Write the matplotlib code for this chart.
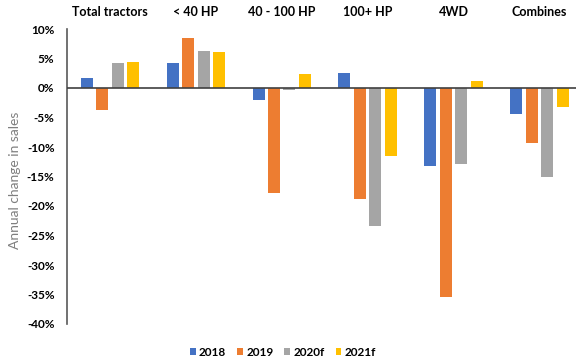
import matplotlib
matplotlib.use("Agg")
import matplotlib.pyplot as plt
import matplotlib.transforms as mtransforms
import numpy as np
from matplotlib.ticker import FuncFormatter

categories = ["Total tractors", "< 40 HP", "40 - 100 HP", "100+ HP", "4WD", "Combines"]
series = ["2018", "2019", "2020f", "2021f"]
v2018 = [1.7, 4.2, -2.0, 2.6, -13.2, -4.4]
v2019 = [-3.7, 8.5, -17.8, -18.8, -35.4, -9.4]
v2020f = [4.2, 6.3, -0.3, -23.4, -12.9, -15.1]
v2021f = [4.4, 6.1, 2.3, -11.6, 1.2, -3.3]
colors = ["#4472C4", "#ED7D31", "#A5A5A5", "#FFC000"]

plt.rcParams['font.family'] = ['Lato', 'DejaVu Sans']

fig = plt.figure(figsize=(5.76, 3.62), dpi=100)
ax = fig.add_axes([67/576, 1-324/362, 1-67/576, (324-29)/362])

x = np.arange(len(categories))
w = 0.14
step = 0.18
for i, (name, vals) in enumerate(zip(series, [v2018, v2019, v2020f, v2021f])):
    ax.bar(x + (i-1.5)*step, vals, width=w, color=colors[i], label=name, zorder=2)

ax.set_ylim(-40, 10)
ax.set_xlim(-0.5, -0.5 + (576-67)/85.9)
ax.set_yticks(np.arange(-40, 11, 5))
ax.yaxis.set_major_formatter(FuncFormatter(lambda v, p: f"{int(v)}%"))
for lab in ax.get_yticklabels():
    lab.set_fontweight('bold')
    lab.set_fontsize(8.5)
ax.tick_params(axis='y', length=0, pad=9)
ax.tick_params(axis='x', length=0, labelbottom=False)
for s in ['top', 'right', 'bottom']:
    ax.spines[s].set_visible(False)
ax.spines['left'].set_color('#595959')
ax.spines['left'].set_linewidth(1.2)
ax.axhline(0, color='#404040', linewidth=1.2, zorder=3)

trans = mtransforms.blended_transform_factory(ax.transData, fig.transFigure)
for xi, c in zip(x, categories):
    ax.text(xi, 1 - 12/362, c, transform=trans,
            ha='center', va='center', fontsize=9, fontweight='bold')

fig.text(15/576, 1-180/362, "Annual change in sales", rotation=90, ha='center', va='center',
         fontsize=10, color='#7f7f7f')

leg = fig.legend(loc='center', bbox_to_anchor=(283/576, 1-352/362), ncol=4, frameon=False,
                 prop={'weight': 'bold', 'size': 8.5}, handlelength=0.5, handleheight=0.5,
                 handletextpad=0.3, columnspacing=0.9)

fig.savefig("out.png", dpi=100)
